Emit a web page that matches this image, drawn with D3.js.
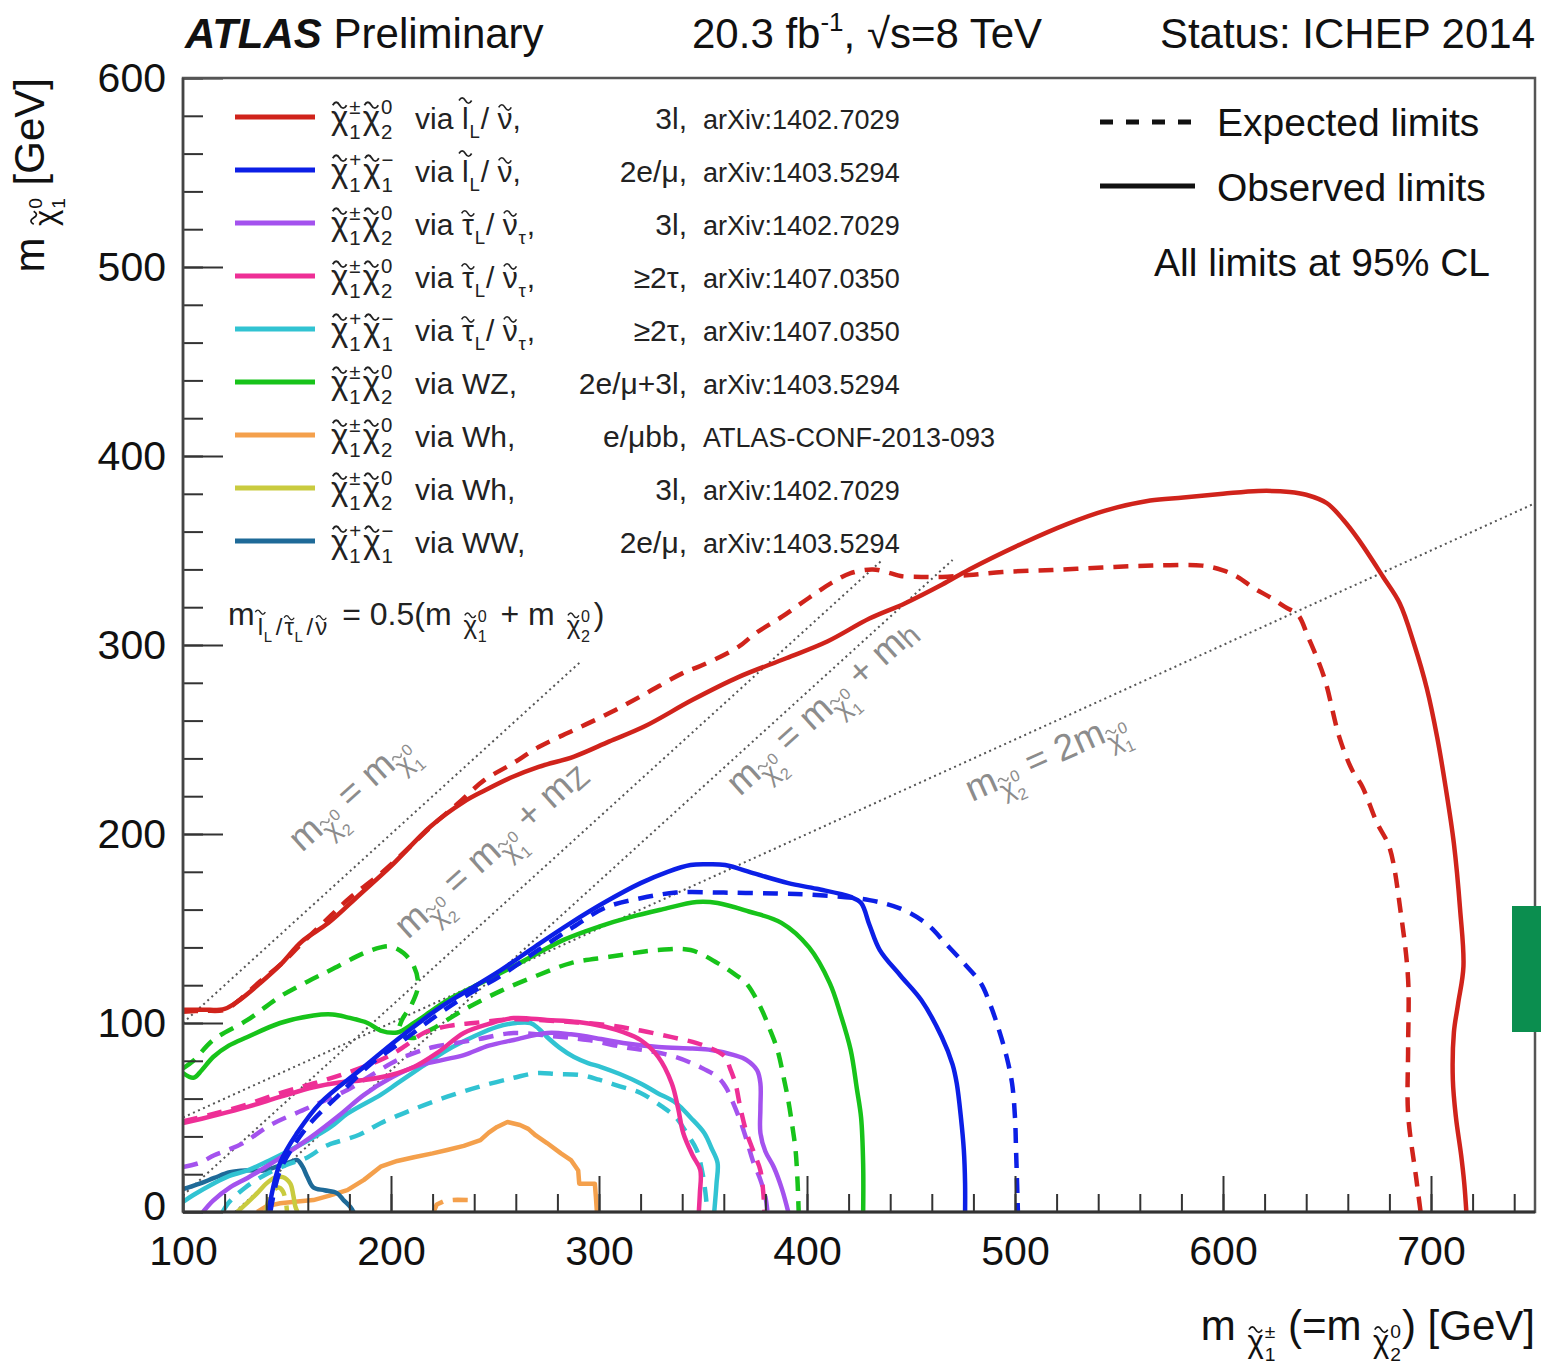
<!DOCTYPE html>
<html><head><meta charset="utf-8">
<script src="https://cdn.jsdelivr.net/npm/d3@7"></script>
<style>
html,body{margin:0;padding:0;background:#fff;}
svg text{white-space:pre;font-family:"Liberation Sans",Arial,Helvetica,sans-serif;}
</style></head>
<body>
<script>
// ---------------- DATA ----------------
const xTicks = [100,200,300,400,500,600,700];
const yTicks = [0,100,200,300,400,500,600];

// red: chi1+- chi2^0 via slepton, 3l
const redObs = [[100,107],[110,107],[120,107.5],[127,112],[137,121],[147,131],[157,143],[170,153],[185,168],[200,183],[219,204],[235,217],[245,223],[258,230],[271,235.5],[288,241],[305,249],[322,257],[345,271],[367,283],[390,293],[410,302],[430,314],[447,322],[465,332],[478,340],[504,354],[525,364],[543,371],[565,376.5],[581,378],[600,380],[617,381.5],[632,381],[640,379.5],[650,375],[658,366],[665,356],[677,336],[685,322],[692,300],[698,277],[703,251],[707,225],[711,195],[714,160],[715.6,130],[713,110],[711,95],[710.5,70],[712,50],[714.5,30],[716,15],[717,0]];
const redExp = [[100,106],[110,106.5],[120,107],[128,113],[137,122],[147,131],[157,142],[167.5,153],[180,166],[195,179],[207,191],[219,203.7],[232,216],[245,228.6],[258,237],[271,246],[288,255],[305,264],[322,274],[340,285],[349,289],[367,299],[375,306],[388,315],[401,325],[412,333],[421,338],[431.6,340],[440,338],[445,336.5],[455,336],[465,336],[478,337],[494,338.6],[518,339.7],[542,341],[566,342],[590,342],[600,339.5],[607,336],[615,330],[623,325],[630,320],[636,316],[641,304],[648.6,283],[656,251],[662,234],[667,225],[674,206],[680,193],[685.5,158],[689,123],[689,87],[689,52],[693,17],[695,0]];
// blue: chi1+ chi1- via slepton, 2e/mu
const blueObs = [[141,0],[146.7,26],[155,42],[166,57.7],[185,75],[204.6,92.6],[224,108.5],[235,116],[252.8,128],[270,141],[286.5,153],[303,164],[320,174],[333,180],[344,183.6],[352,184],[360.7,183.6],[375,179],[391,174],[404.6,171],[421,166.7],[426,163.5],[430,152],[435,138.6],[445,125],[455,112],[464.8,92.6],[470,78],[472,68],[474,50],[475.4,32.8],[476,15],[476,0]];
const blueExp = [[142,0],[146,20],[152,33],[162,48],[175,62],[190,78],[205,90],[222,104],[237,115],[252.8,125],[270,138],[286.5,150],[303,161],[320,166],[337,169],[360,169],[385,168.5],[404.6,167.7],[430,165],[446.5,159.8],[458,152],[466.7,142],[476,131],[483.6,121],[488,110],[491.8,98],[496,82],[498.6,68],[500,50],[500.5,33],[501,15],[501.4,0]];
// purple: chi1+- chi2^0 via stau, 3l
const purpleObs = [[109.6,0],[114.5,6],[122.6,13],[131,18],[138.6,23],[150,31],[162,40],[175,51],[187,62],[200,71],[212,77],[225,80.5],[235,83],[247,88],[259,91],[275,94.7],[286.5,94],[301,91.5],[311.6,89.4],[328.5,87.3],[345,86.5],[354,85.7],[365,83],[371,80.4],[376,75],[377.6,68],[377.6,55],[377.6,41.8],[380,32],[384,23.8],[388,12],[391,0]];
const purpleExp = [[100,23.8],[108,26],[115,30],[122,33],[129,36.5],[142,46],[160,55],[179,64.6],[190,72],[203,80.4],[212,84.5],[220.5,87.3],[240,91],[259,94.7],[278,93],[294.7,91],[311.6,87.3],[325,85],[337,82],[348,77],[357,71.4],[361,66],[364,59],[368,48],[371,38],[374,27],[377.6,17],[380,8],[381,0]];
// pink: chi1+- chi2^0 via stau, >=2tau
const pinkObs = [[100,47],[115,51],[131,55.6],[147,61],[162.7,66],[175,68.5],[187,69.8],[200,72.5],[211,76.7],[222,84],[235,94.7],[247,99.5],[259,102.6],[275,101.6],[290,100.5],[303,98],[312,95],[320,91],[328.5,82],[335,68],[338,55],[340.5,41.8],[345,30],[348.7,22.2],[348.5,10],[348,0]];
const pinkExp = [[100,48],[115,52],[131,57],[147,63],[162.7,68],[180,74],[198,82],[207,88],[215.7,94.7],[228,98.5],[239.8,100],[259,102],[280,101],[303,99],[320,96],[335,92.5],[347,89.4],[355,86],[360.7,82],[363,76],[365.6,68],[368,55],[371,41.8],[375,30],[377.6,22],[379,10],[379.5,0]];
// cyan: chi1+ chi1- via stau, >=2tau
const cyanObs = [[99,4.6],[105,9],[114.5,15],[122,19],[131,22],[141,27],[151.6,32.8],[162,39],[171,45],[179,52],[195,62],[203,68],[215,77],[227,85.7],[240,93],[251,98],[260,100],[267,100],[271,97],[275,92.6],[281,87],[288,82],[294.7,78.8],[301,76.7],[310,73],[320,68],[328,63],[337,57.7],[344,50],[350.6,41.8],[354,34],[357,26],[356.5,15],[355.4,0]];
const cyanExp = [[119,0],[122,5],[130,13],[140,20],[150,25],[160,29],[167.5,34.4],[171,36],[185,41],[195,47],[210,54],[227,61],[243,66.5],[259,71],[270,73.5],[280,73],[291,72.5],[300,70],[310,66.5],[320,63],[330,56],[337,50],[342,42],[347,32.8],[349.5,22],[350.6,15],[351.5,7],[352,0]];
// green: chi1+- chi2^0 via WZ
const greenObs = [[100,73.5],[105,71],[109,75],[114.5,82],[122,88],[131,92.6],[146.7,100],[162.7,104],[172,104.5],[179,103],[188.7,100],[195,96],[203,95],[211,100],[219,106],[227,112],[243,121],[259,130],[283,144],[300,151],[315,156],[330,160],[347,164],[357,163.5],[372,159],[387.7,153],[401,140],[411,121],[416,105],[421,85.7],[424,65],[426,50],[427,25],[427,0]];
const greenExp = [[100,76],[105,80],[114.5,91],[131,101.6],[146.7,114],[160,122],[171,128],[187,137],[195,140],[200,140.5],[206,137],[211,130],[213,120],[210,110],[205,101],[204,95],[210,92],[220,97],[235,107],[252.8,117],[270,125],[286.5,131.7],[305,135],[328.5,138.6],[344,138.6],[357,131.7],[365,126],[370.8,121],[377.6,108.5],[382,97],[385.8,85.7],[389,70],[391,59],[393,45],[394.5,32.8],[395.5,15],[396,0]];
// orange: Wh, e/mu bb
const orangeObs = [[135.7,0],[140,3],[146.7,4.6],[155,5.5],[162.7,6.3],[170,8.5],[179,11.6],[187,17],[195,24],[203,27],[211,29],[220,31],[227,32.8],[235,35],[243,38],[247,42],[251,45],[256,47.6],[262,46],[266,44],[269.6,40.5],[275,36.5],[281.7,31],[286.5,27.5],[290,22],[290.5,15],[295,15],[298,15],[298.5,8],[299,0]];
const orangeExp = [[220.5,0],[222,4],[226,6],[232,6.5],[238,6.3]];
// yellow: Wh, 3l
const yellowObs = [[126,0],[131,5],[135.7,10],[140,15],[144,18],[148,18.5],[151.6,15],[153,9],[154,3],[155,0]];
const yellowExp = [[140,0],[141,6],[143,11],[146,13],[148,11],[149.5,5],[150,0]];
// teal: WW, 2e/mu
const tealObs = [[98.6,11.6],[108,15],[115,18],[122.6,21],[130,22],[138.6,22],[145,24],[151.6,26.5],[155,27.5],[157.5,24],[159.8,18.5],[162.7,13],[168,11.5],[174,10],[177,6.5],[180.5,2.6],[182,0]];

// kinematic reference lines
const lineEqual = [[100,100],[291,291]];
const lineZ = [[100,8.8],[436,344.8]];
const lineH = [[125,0],[470,345]];
const line2x = [[100,50],[750,375]];

// legend
const legendColors = ["#d0231b","#0c1fe6","#a452ee","#ee2f96","#31c3d2","#17c31a","#f4a04c","#c9cb3f","#1e6a98"];
const legendPairs = ["pm0","pp","pm0","pm0","pp","pm0","pm0","pm0","pp"];
const legendModes = ["slep","slep","stau","stau","stau","WZ,","Wh,","Wh,","WW,"];
const legendChannels = ["3l,","2e/\u03bc,","3l,","\u22652\u03c4,","\u22652\u03c4,","2e/\u03bc+3l,","e/\u03bcbb,","3l,","2e/\u03bc,"];
const legendRefs = ["arXiv:1402.7029","arXiv:1403.5294","arXiv:1402.7029","arXiv:1407.0350","arXiv:1407.0350","arXiv:1403.5294","ATLAS-CONF-2013-093","arXiv:1402.7029","arXiv:1403.5294"];

// ---------------- DRAWING ----------------
const W = 1541, H = 1370;
const svg = d3.select("body").append("svg").attr("width", W).attr("height", H);
const x = d3.scaleLinear().domain([100,750]).range([183,1535]);
const y = d3.scaleLinear().domain([0,600]).range([1212,78]);

// one <text> per rich label, pieces as absolutely placed tspans; tildes drawn as small paths
function rich(g, x0, y0, tokens, fs, fill) {
  const text = g.append("text").attr("fill", fill).attr("font-size", fs);
  const piece = (str, xx, yy, f) => text.append("tspan").attr("x", xx).attr("y", yy).attr("font-size", f).text(str);
  let cx = x0;
  for (const tok of tokens) {
    const o = (typeof tok === "string") ? {t: tok} : tok;
    const f = o.fs || fs;
    const by = y0 + (o.dy || 0);
    if (o.t !== undefined) {
      const ts = piece(o.t, cx, by, f);
      if (o.weight) ts.attr("font-weight", o.weight);
      if (o.style) ts.attr("font-style", o.style);
      cx += ts.node().getComputedTextLength() + (o.gap || 0);
    } else {
      const ts = piece(o.b, cx, by, f);
      const w = ts.node().getComputedTextLength();
      const sf = f*0.62;
      let sw = 0;
      if (o.sup) {
        const s = piece(o.sup, cx + w + f*0.03, by - f*0.46, sf);
        sw = Math.max(sw, s.node().getComputedTextLength());
      }
      if (o.sub) {
        const s = piece(o.sub, cx + w + f*0.03, by + f*0.3, sf);
        sw = Math.max(sw, s.node().getComputedTextLength());
      }
      if (o.tilde) {
        const tw = f*0.42, th = f*0.09;
        const tcx = cx + w/2 + (o.tx || 0)*f, tcy = by - (o.tup || 0.72)*f;
        g.append("path")
          .attr("d", `M${tcx - tw/2},${tcy} q${tw/4},${-th*2} ${tw/2},0 t${tw/2},0`)
          .attr("fill","none").attr("stroke", fill).attr("stroke-width", Math.max(1.1, f*0.055));
      }
      cx += w + (sw ? sw + f*0.06 : 0) + (o.gap || 0);
    }
  }
  return cx - x0;
}

// clip
svg.append("defs").append("clipPath").attr("id","plotclip").append("rect")
  .attr("x", x(100)).attr("y", y(600)).attr("width", x(750)-x(100)).attr("height", y(0)-y(600));

// kinematic dotted lines
const straight = d3.line().x(d => x(d[0])).y(d => y(d[1]));
const plot = svg.append("g").attr("clip-path","url(#plotclip)");
[lineEqual, lineZ, lineH, line2x].forEach(l => {
  plot.append("path").attr("d", straight(l)).attr("fill","none")
    .attr("stroke","#555").attr("stroke-width",2).attr("stroke-dasharray","2,3.5");
});

// rotated labels on lines
const grey = "#8c8c8c";
function rotLabel(px, py, ang, tokens) {
  const g = svg.append("g").attr("transform", `translate(${px},${py}) rotate(${ang})`);
  rich(g, 0, 0, tokens, 37, grey);
}
const chiS = (sup, sub) => ({b:"\u03c7", fs:26, dy:11, tilde:true, sup:sup, sub:sub});
rotLabel(302, 853, -42, ["m", chiS("0","2"), " = m", chiS("0","1")]);
rotLabel(408, 940, -42, ["m", chiS("0","2"), " = m", chiS("0","1"), " + m", {t:"Z", fs:30, dy:4}]);
rotLabel(740, 797, -42, ["m", chiS("0","2"), " = m", chiS("0","1"), " + m", {t:"h", fs:30, dy:4}]);
rotLabel(972, 802, -24, ["m", chiS("0","2"), " = 2m", chiS("0","1")]);

// slepton mass label
rich(svg.append("g"), 228, 625, [
  {t:"m", gap:3},
  {b:"l", fs:24, dy:10, tilde:true, tup:0.95, sub:"L", gap:3},
  {t:"/", fs:24, dy:10, gap:2},
  {b:"\u03c4", fs:24, dy:10, tilde:true, sub:"L", gap:3},
  {t:"/", fs:24, dy:10, gap:2},
  {b:"\u03bd", fs:24, dy:10, tilde:true, gap:6},
  {t:" = 0.5(m ", gap:3},
  {b:"\u03c7", fs:26, dy:9, tilde:true, sup:"0", sub:"1", gap:4},
  {t:" + m ", gap:3},
  {b:"\u03c7", fs:26, dy:9, tilde:true, sup:"0", sub:"2", gap:3},
  ")"
], 32, "#222");

// curves
const smooth = d3.line().x(d => x(d[0])).y(d => y(d[1])).curve(d3.curveCatmullRom.alpha(0.5));
const jag = d3.line().x(d => x(d[0])).y(d => y(d[1]));
const curves = [
  {d: orangeObs, c: legendColors[6], dash:false, gen: jag},
  {d: orangeExp, c: legendColors[6], dash:true, gen: jag},
  {d: yellowObs, c: legendColors[7], dash:false, gen: smooth},
  {d: yellowExp, c: legendColors[7], dash:true, gen: smooth},
  {d: tealObs, c: legendColors[8], dash:false, gen: smooth},
  {d: greenExp, c: legendColors[5], dash:true, gen: smooth},
  {d: greenObs, c: legendColors[5], dash:false, gen: smooth},
  {d: cyanExp, c: legendColors[4], dash:true, gen: smooth},
  {d: cyanObs, c: legendColors[4], dash:false, gen: smooth},
  {d: purpleExp, c: legendColors[2], dash:true, gen: smooth},
  {d: purpleObs, c: legendColors[2], dash:false, gen: smooth},
  {d: pinkExp, c: legendColors[3], dash:true, gen: smooth},
  {d: pinkObs, c: legendColors[3], dash:false, gen: smooth},
  {d: blueExp, c: legendColors[1], dash:true, gen: smooth},
  {d: blueObs, c: legendColors[1], dash:false, gen: smooth},
  {d: redExp, c: legendColors[0], dash:true, gen: smooth},
  {d: redObs, c: legendColors[0], dash:false, gen: smooth}
];
curves.forEach(cv => {
  plot.append("path").attr("d", cv.gen(cv.d)).attr("fill","none")
    .attr("stroke", cv.c).attr("stroke-width", 4.5)
    .attr("stroke-linejoin","round")
    .attr("stroke-dasharray", cv.dash ? "15,10" : null);
});

// axes
const axFont = 41;
const yMinor = svg.append("g").attr("transform", `translate(${x(100)},0)`)
  .call(d3.axisLeft(y).tickValues(d3.range(0, 601, 20)).tickSize(-20).tickFormat(""));
const yMajor = svg.append("g").attr("transform", `translate(${x(100)},0)`)
  .call(d3.axisLeft(y).tickValues(yTicks).tickSize(-40).tickPadding(17).tickFormat(d3.format("d")));
const xMinor = svg.append("g").attr("transform", `translate(0,${y(0)})`)
  .call(d3.axisBottom(x).tickValues(d3.range(100, 751, 20)).tickSize(-18).tickFormat(""));
const xMajor = svg.append("g").attr("transform", `translate(0,${y(0)})`)
  .call(d3.axisBottom(x).tickValues(xTicks).tickSize(-36).tickPadding(24).tickFormat(d3.format("d")));
[yMinor,yMajor,xMinor,xMajor].forEach(a => {
  a.select(".domain").remove();
  a.selectAll(".tick line").attr("stroke","#333").attr("stroke-width",2);
  a.selectAll("text").attr("font-size", axFont).attr("fill","#111")
    .attr("font-family","Liberation Sans, Arial, sans-serif");
});
// lift the "0" label slightly so it does not collide with the "100" below it
yMajor.selectAll(".tick").filter(d => d === 0).select("text").attr("y", -6);

// frame
svg.append("rect").attr("x", x(100)).attr("y", y(600)).attr("width", x(750)-x(100)).attr("height", y(0)-y(600))
  .attr("fill","none").attr("stroke","#555").attr("stroke-width",2.5);
svg.append("line").attr("x1", x(100)).attr("x2", x(750)).attr("y1", y(0)).attr("y2", y(0)).attr("stroke","#333").attr("stroke-width",3);
svg.append("line").attr("x1", x(100)).attr("x2", x(100)).attr("y1", y(0)).attr("y2", y(600)).attr("stroke","#444").attr("stroke-width",2.5);

// header
rich(svg.append("g"), 185, 48, [{t:"ATLAS", weight:"bold", style:"italic"}, " Preliminary"], 42, "#111");
rich(svg.append("g"), 692, 48, ["20.3 fb", {t:"-1", fs:26, dy:-17}, ", \u221As=8 TeV"], 42, "#111");
svg.append("text").attr("x", 1535).attr("y", 48).attr("text-anchor","end").attr("font-size",42).attr("fill","#111").text("Status: ICHEP 2014");

// axis titles
{
  const g = svg.append("g");
  const w = rich(g, 0, 0, ["m ", {b:"\u03c7", fs:31, dy:12, tilde:true, sup:"0", sub:"1"}, " [GeV]"], 42, "#111");
  g.attr("transform", `translate(44,${78 + w}) rotate(-90)`);
}
{
  const g = svg.append("g");
  const w = rich(g, 0, 0, ["m ", {b:"\u03c7", fs:31, dy:12, tilde:true, sup:"\u00b1", sub:"1"}, " (=m ", {b:"\u03c7", fs:31, dy:12, tilde:true, sup:"0", sub:"2"}, ") [GeV]"], 42, "#111");
  g.attr("transform", `translate(${1535 - w},1340)`);
}

// legend (process)
const rowY = d3.range(9).map(i => 117 + i*53);
rowY.forEach((ry, i) => {
  const g = svg.append("g");
  g.append("line").attr("x1", 235).attr("x2", 315).attr("y1", ry).attr("y2", ry)
    .attr("stroke", legendColors[i]).attr("stroke-width", 5);
  const by = ry + 12;
  const cf = 33;
  const pair = legendPairs[i] === "pm0"
    ? [{b:"\u03c7", fs:cf, tilde:true, sup:"\u00b1", sub:"1", gap:1}, {b:"\u03c7", fs:cf, tilde:true, sup:"0", sub:"2"}]
    : [{b:"\u03c7", fs:cf, tilde:true, sup:"+", sub:"1", gap:1}, {b:"\u03c7", fs:cf, tilde:true, sup:"\u2212", sub:"1"}];
  rich(g, 331, by, pair, cf, "#222");
  g.append("text").attr("x", 415).attr("y", by).attr("font-size", 30).attr("fill","#222").text("via");
  let mode;
  if (legendModes[i] === "slep") mode = [{b:"l", tilde:true, tup:0.95, sub:"L"}, "/ ", {b:"\u03bd", tilde:true}, ","];
  else if (legendModes[i] === "stau") mode = [{b:"\u03c4", tilde:true, sub:"L"}, "/ ", {b:"\u03bd", tilde:true, sub:"\u03c4"}, ","];
  else mode = [legendModes[i]];
  rich(g, 462, by, mode, 30, "#222");
  g.append("text").attr("x", 687).attr("y", by).attr("text-anchor","end").attr("font-size", 30).attr("fill","#222").text(legendChannels[i]);
  g.append("text").attr("x", 703).attr("y", by).attr("font-size", 27).attr("fill","#222").text(legendRefs[i]);
});

// legend (line styles)
svg.append("line").attr("x1",1100).attr("x2",1195).attr("y1",122).attr("y2",122)
  .attr("stroke","#111").attr("stroke-width",5).attr("stroke-dasharray","13,13");
svg.append("line").attr("x1",1100).attr("x2",1195).attr("y1",186).attr("y2",186)
  .attr("stroke","#111").attr("stroke-width",5);
svg.append("text").attr("x",1217).attr("y",136).attr("font-size",39).attr("fill","#111").text("Expected limits");
svg.append("text").attr("x",1217).attr("y",201).attr("font-size",39).attr("fill","#111").text("Observed limits");
svg.append("text").attr("x",1490).attr("y",276).attr("text-anchor","end").attr("font-size",39).attr("fill","#111").text("All limits at 95% CL");

// green marker at right edge
svg.append("rect").attr("x",1512).attr("y",906).attr("width",29).attr("height",126).attr("fill","#0b8e4f");
</script>
</body></html>
